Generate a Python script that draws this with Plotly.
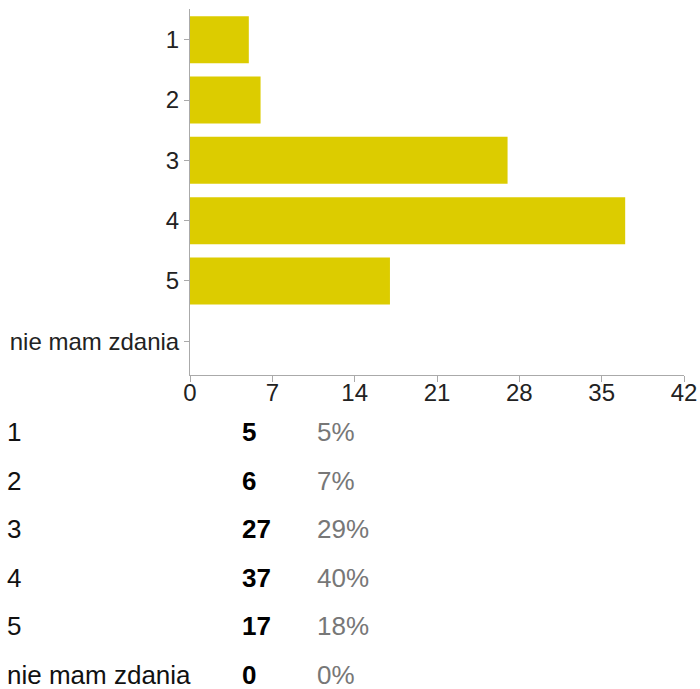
import plotly.graph_objects as go

# survey answers and counts
categories = ["1", "2", "3", "4", "5", "nie mam zdania"]
counts = [5, 6, 27, 37, 17, 0]
percents = ["5%", "7%", "29%", "40%", "18%", "0%"]
x_ticks = [0, 7, 14, 21, 28, 35, 42]

W, H = 700, 689
# plot area in pixels
L, R, T, B = 190, 684, 9, 375

FONT = "Arial, Liberation Sans, sans-serif"


def px_x(p):
    # pixel -> paper x (annotation box has ~3px padding)
    return (p - 3 - L) / (R - L)


def px_y(p):
    return (B - p) / (B - T)


fig = go.Figure()
fig.add_trace(
    go.Bar(
        x=counts,
        y=categories,
        orientation="h",
        marker=dict(color="#dccc00", line=dict(width=0)),
        hoverinfo="x+y",
    )
)

# summary table below the chart
row0, step = 432, 48.6
for i, (cat, n, pct) in enumerate(zip(categories, counts, percents)):
    y = px_y(row0 + i * step)
    fig.add_annotation(
        x=px_x(8), y=y, text=cat, font=dict(size=26, color="#111111"),
        xanchor="left", yanchor="middle", xref="paper", yref="paper", showarrow=False,
    )
    fig.add_annotation(
        x=px_x(243), y=y, text="<b>%d</b>" % n, font=dict(size=26, color="#000000"),
        xanchor="left", yanchor="middle", xref="paper", yref="paper", showarrow=False,
    )
    fig.add_annotation(
        x=px_x(318), y=y, text=pct, font=dict(size=26, color="#777777"),
        xanchor="left", yanchor="middle", xref="paper", yref="paper", showarrow=False,
    )

fig.update_layout(
    width=W,
    height=H,
    margin=dict(l=L, r=W - R, t=T, b=H - B, pad=0),
    paper_bgcolor="white",
    plot_bgcolor="white",
    bargap=0.22,
    showlegend=False,
    font=dict(family=FONT, size=24, color="#222222"),
)
fig.update_xaxes(
    range=[0, 42],
    tickvals=x_ticks,
    showgrid=False,
    zeroline=False,
    showline=True,
    linecolor="#aaaaaa",
    linewidth=1,
    ticks="outside",
    ticklen=6,
    tickcolor="#aaaaaa",
    tickfont=dict(size=24),
    ticklabelstandoff=-10,
    automargin=False,
)
fig.update_yaxes(
    range=[5.56, -0.51],
    showgrid=False,
    showline=True,
    linecolor="#aaaaaa",
    linewidth=1,
    ticks="outside",
    ticklen=5,
    tickcolor="#aaaaaa",
    tickfont=dict(size=24),
    automargin=False,
)

# drop the default body margin so the figure fills the window exactly
fig.write_html(
    "out.html",
    config={"displayModeBar": False},
    post_script="document.body.style.margin = '0';",
)
